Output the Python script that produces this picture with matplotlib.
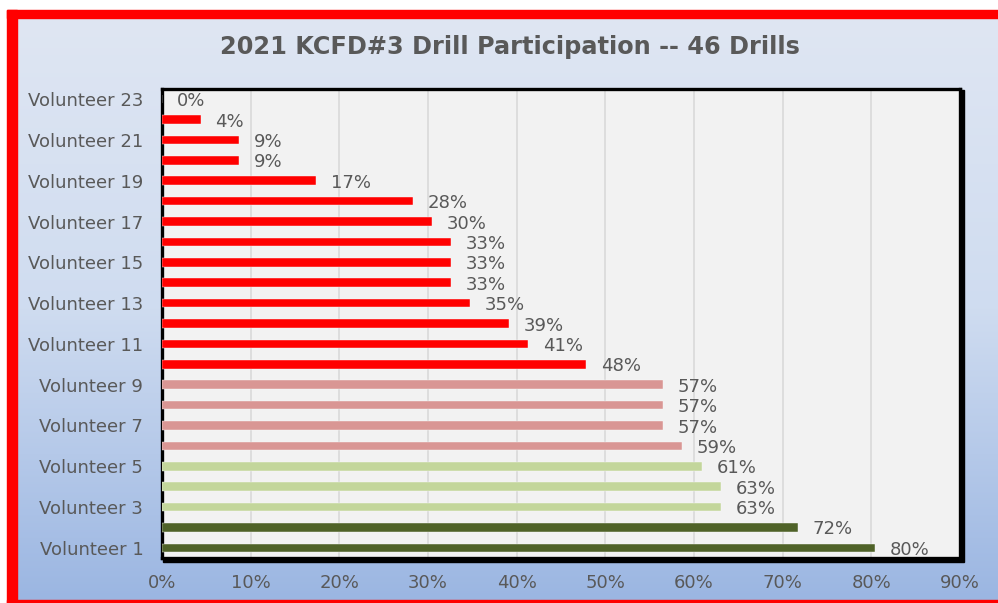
"""
Drill participation per volunteer, horizontal bar chart.
"""
import numpy as np
import matplotlib.pyplot as plt
from matplotlib.patches import Rectangle
from matplotlib.colors import LinearSegmentedColormap
from matplotlib.ticker import FuncFormatter

plt.rcParams["font.family"] = ["DejaVu Sans"]

volunteers = ["Volunteer %d" % i for i in range(1, 24)]
# percent of the 46 drills attended, Volunteer 1 first
participation = [80.43, 71.74, 63.04, 63.04, 60.87, 58.70, 56.52, 56.52, 56.52,
                 47.83, 41.30, 39.13, 34.78, 32.61, 32.61, 32.61, 30.43, 28.26,
                 17.39, 8.70, 8.70, 4.35, 0.0]
tiers = ["top"] * 2 + ["good"] * 3 + ["mid"] * 4 + ["low"] * 14
tier_colors = {"top": "#4f6228", "good": "#c3d69b", "mid": "#d99694", "low": "#ff0000"}

W, H = 998, 603
fig = plt.figure(figsize=(W / 100, H / 100), dpi=100, facecolor="white")

# background panel with gradient and red frame (pixel coordinates)
bg = fig.add_axes([0, 0, 1, 1], zorder=0)
bg.set_xlim(0, W)
bg.set_ylim(H, 0)
bg.axis("off")
grad = np.linspace(0, 1, 256).reshape(-1, 1)
cmap = LinearSegmentedColormap.from_list("bgblue", ["#dfe6f3", "#cfdcf0", "#9bb6e2"])
bg.imshow(grad, cmap=cmap, aspect="auto", extent=(17, W, 600, 18), zorder=0)
bg.add_patch(Rectangle((7, 10), 10, 593, color="#ff0000", zorder=2))
bg.add_patch(Rectangle((7, 10), W - 7, 8, color="#ff0000", zorder=2))
bg.add_patch(Rectangle((7, 600), W - 7, 3, color="#ff0000", zorder=2))

# plot area
left, right, top, bottom = 162, 960, 89, 558
pos = [left / W, 1 - bottom / H, (right - left) / W, (bottom - top) / H]
# shadow behind the frame
bg.add_patch(Rectangle((left + 1, top + 1), right - left + 3, bottom - top + 3,
                       color="black", zorder=3))
ax = fig.add_axes(pos, zorder=1)
ax.set_facecolor("#f2f2f2")

y = np.arange(len(volunteers))
colors = [tier_colors[t] for t in tiers]
ax.barh(y, participation, height=0.42, color=colors, edgecolor="#f8f8f8",
        linewidth=0.3, zorder=3)
for yi, v in zip(y, participation):
    ax.annotate("%.0f%%" % v, (v, yi), xytext=(10.5, -1.5), textcoords="offset points",
                ha="left", va="center", fontsize=13, color="#595959", zorder=4)

ax.set_xlim(0, 90)
ax.set_ylim(-0.5, 22.5)
ax.set_xticks(np.arange(0, 91, 10))
ax.xaxis.set_major_formatter(FuncFormatter(lambda x, p: "%d%%" % x))
ax.set_yticks(y[::2])
ax.set_yticklabels(volunteers[::2])
ax.tick_params(axis="y", length=0, pad=13.5, labelsize=13, labelcolor="#595959")
ax.tick_params(axis="x", length=0, pad=11.5, labelsize=13, labelcolor="#595959")
ax.grid(axis="x", color="#d9d9d9", linewidth=1.2, zorder=0)
ax.set_axisbelow(True)
for s in ax.spines.values():
    s.set_color("black")
    s.set_linewidth(2.4)

fig.text(509.5 / W, 1 - 47 / H, "2021 KCFD#3 Drill Participation -- 46 Drills",
         ha="center", va="center", fontsize=17.3, fontweight="bold", color="#595959")

fig.savefig("out.png", dpi=100)
